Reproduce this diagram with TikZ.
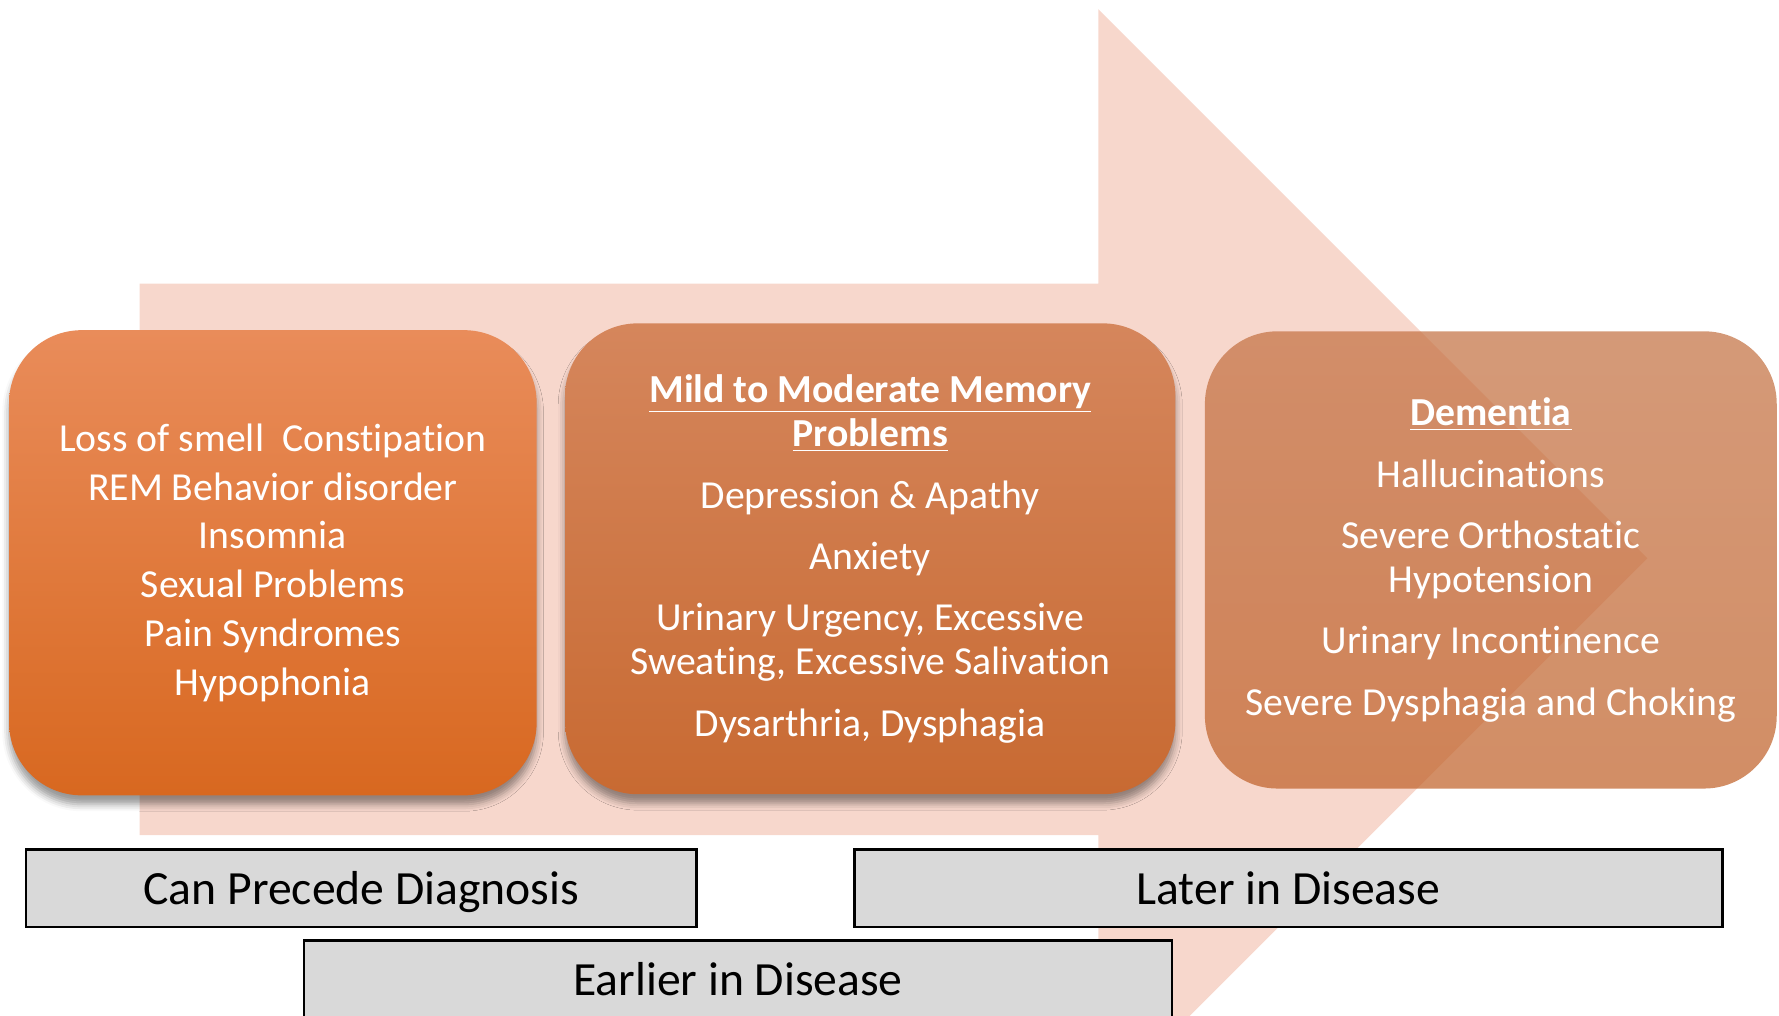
\documentclass[tikz,border=0pt]{standalone}
\usepackage{fontspec}
\setmainfont{Carlito}[Ligatures=NoCommon]
\usetikzlibrary{shadows.blur}

% keeps t and i apart (no ti ligature)
\newcommand{\tI}{t\kern0pt i}

\definecolor{arrowpink}{RGB}{247,215,204}
\definecolor{earlytop}{RGB}{233,140,90}
\definecolor{earlybot}{RGB}{216,104,32}
\definecolor{midtop}{RGB}{213,134,92}
\definecolor{midbot}{RGB}{200,106,50}
\definecolor{latetop}{RGB}{196,114,68}
\definecolor{latebot}{RGB}{192,98,42}
\definecolor{phasegrey}{RGB}{217,217,217}

\begin{document}
\begin{tikzpicture}[x=1pt, y=-1pt,
    stage/.style={rounded corners=32pt, inner sep=0pt, align=center, text=white,
        font=\fontsize{17.5}{19.5}\selectfont},
    softshadow/.style={blur shadow={shadow xshift=0pt, shadow yshift=-4pt,
        shadow blur radius=3pt, shadow opacity=40}},
    phase/.style={draw=black, line width=1.2pt, fill=phasegrey, inner sep=0pt,
        minimum height=34pt, text depth=0pt, font=\fontsize{21}{25}\selectfont}]

    \useasboundingbox (0,0) rectangle (784,447.5);
    \clip (0,0) rectangle (784,447.5);

    % big background arrow
    \fill[arrowpink] (61.5,125) -- (484,125) -- (484,4) -- (726,246)
        -- (484,488) -- (484,368) -- (61.5,368) -- cycle;

    % the three stages
    \node[stage, softshadow, minimum width=232.5pt, minimum height=205pt,
          top color=earlytop, bottom color=earlybot,
          font=\fontsize{17.5}{21.5}\selectfont] (early) at (120.25,248)
        {Loss of smell\ \ Constipa\tI on\\ REM Behavior disorder\\ Insomnia\\
         Sexual Problems\\ Pain Syndromes\\ Hypophonia};

    \node[stage, softshadow, minimum width=269pt, minimum height=207.5pt,
          top color=midtop, bottom color=midbot] (mild) at (383.5,246.25)
        {\textbf{\underline{Mild to Moderate Memory}}\\ \textbf{\underline{Problems}}\\[7.5pt]
         Depression \& Apathy\\[7.5pt] Anxiety\\[7.5pt]
         Urinary Urgency, Excessive\\ Sweating, Excessive Saliva\tI on\\[7.5pt]
         Dysarthria, Dysphagia};

    \node[stage, minimum width=252pt, minimum height=201.5pt,
          top color=latetop, bottom color=latebot,
          fill opacity=0.72, text opacity=1] (dementia) at (657,246.75)
        {\textbf{\underline{Demen\tI a}}\\[7.5pt] Hallucina\tI ons\\[7.5pt]
         Severe Orthosta\tI c\\ Hypotension\\[7.5pt] Urinary Incon\tI nence\\[7.5pt]
         Severe Dysphagia and Choking};

    % timing labels
    \node[phase, minimum width=295.5pt] (precede) at (159.25,391.5) {Can Precede Diagnosis};
    \node[phase, minimum width=382.5pt] (later) at (567.75,391.5) {Later in Disease};
    \node[phase, minimum width=382.5pt] (earlier) at (325.25,431.5) {Earlier in Disease};

\end{tikzpicture}
\end{document}
